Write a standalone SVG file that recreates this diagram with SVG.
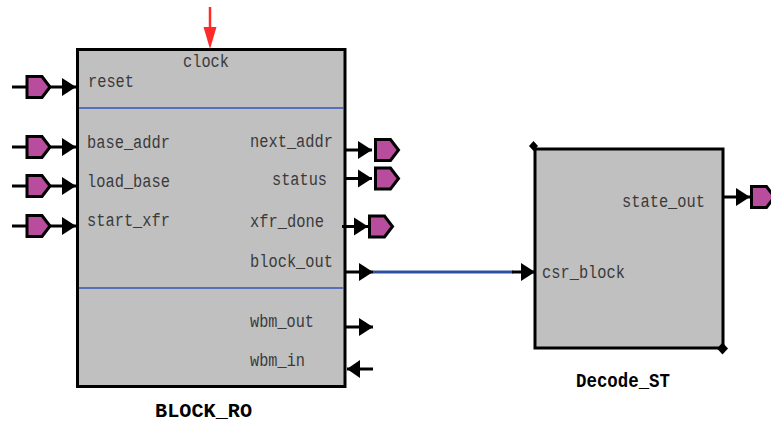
<svg xmlns="http://www.w3.org/2000/svg" width="771" height="438" viewBox="0 0 771 438">
  <style>
    .box { fill: #c0c0c0; stroke: #000; stroke-width: 3; }
    .sep { stroke: #3454b4; stroke-width: 1.5; }
    .wire { stroke: #000; stroke-width: 3; fill: none; }
    .tri { fill: #000; stroke: none; }
    .pin { fill: #b84d9e; stroke: #000; stroke-width: 3; stroke-linejoin: miter; }
    .lbl { font-family: "Liberation Mono", "DejaVu Sans Mono", monospace; font-size: 18px; fill: #3a3a3a; }
    .name { font-family: "Liberation Mono", "DejaVu Sans Mono", monospace; font-size: 20px; font-weight: bold; fill: #000; }
    .bus { stroke: #2f4fa0; stroke-width: 3; fill: none; }
  </style>
  <defs>
    <!-- off-page connector symbol, centred on its own origin -->
    <path id="pin" class="pin" d="M-12,-10.5 H3 L11,0 L3,10.5 H-12 Z"/>
    <!-- right-pointing port arrowhead, tip at origin -->
    <polygon id="arr" class="tri" points="-14,-9 0,0 -14,9"/>
  </defs>

  <!-- BLOCK_RO -->
  <g id="block_ro">
    <rect class="box" x="77.5" y="49.5" width="267.5" height="337"/>
    <line class="sep" x1="79" y1="108" x2="343.5" y2="108"/>
    <line class="sep" x1="79" y1="288" x2="343.5" y2="288"/>
    <text class="lbl" x="183" y="67" textLength="46" lengthAdjust="spacingAndGlyphs">clock</text>
    <text class="lbl" x="88" y="87" textLength="46" lengthAdjust="spacingAndGlyphs">reset</text>
    <text class="lbl" x="87" y="148" textLength="83" lengthAdjust="spacingAndGlyphs">base_addr</text>
    <text class="lbl" x="87" y="187" textLength="83" lengthAdjust="spacingAndGlyphs">load_base</text>
    <text class="lbl" x="87" y="226" textLength="83" lengthAdjust="spacingAndGlyphs">start_xfr</text>
    <text class="lbl" x="250" y="147" textLength="83" lengthAdjust="spacingAndGlyphs">next_addr</text>
    <text class="lbl" x="272" y="185" textLength="55" lengthAdjust="spacingAndGlyphs">status</text>
    <text class="lbl" x="250" y="227" textLength="74" lengthAdjust="spacingAndGlyphs">xfr_done</text>
    <text class="lbl" x="250" y="267" textLength="83" lengthAdjust="spacingAndGlyphs">block_out</text>
    <text class="lbl" x="250" y="327" textLength="64" lengthAdjust="spacingAndGlyphs">wbm_out</text>
    <text class="lbl" x="250" y="366" textLength="55" lengthAdjust="spacingAndGlyphs">wbm_in</text>
    <text class="name" x="155" y="417" textLength="97" lengthAdjust="spacingAndGlyphs">BLOCK_RO</text>
  </g>

  <!-- Decode_ST -->
  <g id="decode_st">
    <rect class="box" x="535" y="149" width="188" height="199"/>
    <polygon class="tri" points="533.5,141 538,146 533.5,151 529,146"/>
    <polygon class="tri" points="722.5,342.5 728,348.5 722.5,354.5 717,348.5"/>
    <text class="lbl" x="622" y="207" textLength="83" lengthAdjust="spacingAndGlyphs">state_out</text>
    <text class="lbl" x="542" y="278" textLength="83" lengthAdjust="spacingAndGlyphs">csr_block</text>
    <text class="name" x="576" y="387" textLength="94" lengthAdjust="spacingAndGlyphs">Decode_ST</text>
  </g>

  <!-- ports and connectors -->
  <g id="connectors">
    <!-- clock input -->
    <line x1="210" y1="7" x2="210" y2="30" stroke="#ff2a2a" stroke-width="2.5"/>
    <polygon points="203.5,27 216.5,27 210,49" fill="#ff2a2a"/>

    <!-- inputs on the left -->
    <g>
      <line class="wire" x1="12" y1="87" x2="76" y2="87"/>
      <use href="#pin" x="39" y="87"/>
      <use href="#arr" x="76" y="87"/>
    </g>
    <g>
      <line class="wire" x1="12" y1="147" x2="76" y2="147"/>
      <use href="#pin" x="39" y="147"/>
      <use href="#arr" x="76" y="147"/>
    </g>
    <g>
      <line class="wire" x1="12" y1="186" x2="76" y2="186"/>
      <use href="#pin" x="39" y="186"/>
      <use href="#arr" x="76" y="186"/>
    </g>
    <g>
      <line class="wire" x1="12" y1="226" x2="76" y2="226"/>
      <use href="#pin" x="39" y="226"/>
      <use href="#arr" x="76" y="226"/>
    </g>

    <!-- outputs on the right -->
    <g>
      <line class="wire" x1="346" y1="150" x2="372" y2="150"/>
      <use href="#arr" x="372" y="150"/>
      <use href="#pin" x="387.5" y="150"/>
    </g>
    <g>
      <line class="wire" x1="346" y1="178.5" x2="372" y2="178.5"/>
      <use href="#arr" x="372" y="178.5"/>
      <use href="#pin" x="387.5" y="178.5"/>
    </g>
    <g>
      <line class="wire" x1="342" y1="226.5" x2="368" y2="226.5"/>
      <use href="#arr" x="368" y="226.5"/>
      <use href="#pin" x="381.5" y="226.5"/>
    </g>

    <!-- block_out to csr_block -->
    <line class="wire" x1="346" y1="272" x2="373" y2="272"/>
    <use href="#arr" x="373" y="272"/>
    <line class="bus" x1="373" y1="272" x2="513" y2="272"/>
    <line class="wire" x1="512" y1="272" x2="535" y2="272"/>
    <use href="#arr" x="535" y="272"/>

    <!-- wishbone master ports -->
    <line class="wire" x1="346" y1="327" x2="373" y2="327"/>
    <use href="#arr" x="373" y="327"/>
    <line class="wire" x1="347" y1="369" x2="373" y2="369"/>
    <polygon class="tri" points="347,369 360,360 360,378"/>

    <!-- state_out -->
    <line class="wire" x1="723" y1="197" x2="750" y2="197"/>
    <use href="#arr" x="750" y="197"/>
    <use href="#pin" x="763.5" y="197"/>
  </g>
</svg>
